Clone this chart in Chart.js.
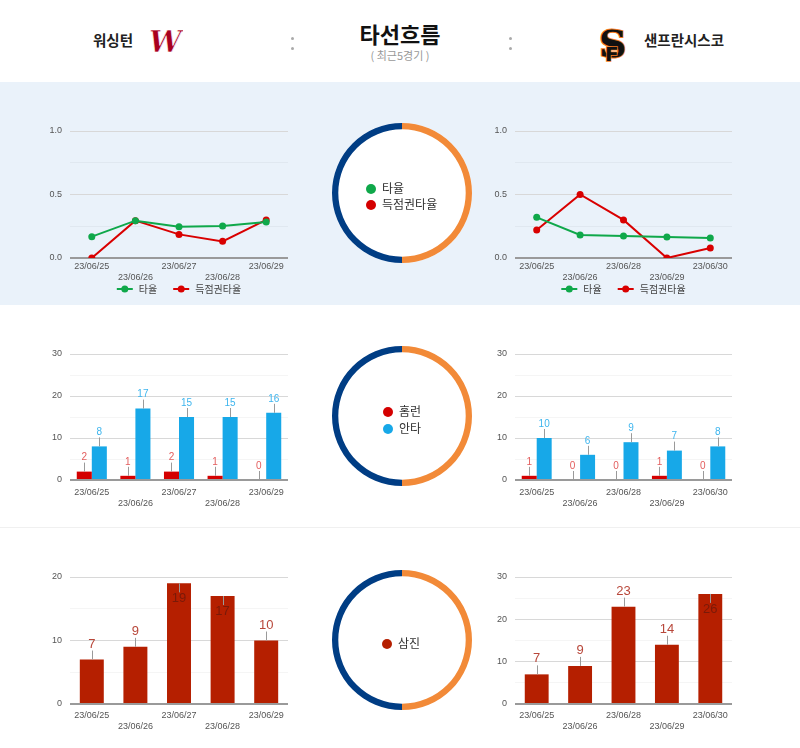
<!DOCTYPE html>
<html>
<head>
<meta charset="utf-8">
<script src="https://cdn.jsdelivr.net/npm/chart.js@4.4.0/dist/chart.umd.min.js"></script>
<style>
body { margin: 0; width: 800px; height: 748px; background: #fff; position: relative; overflow: hidden;
       font-family: 'Liberation Sans', 'Noto Sans CJK KR', sans-serif; }
.abs { position: absolute; }
.dot { position: absolute; width: 3px; height: 3px; border-radius: 50%; background: #aaa; }
.ring-bg { position: absolute; width: 140px; height: 140px; border-radius: 50%; background: #fff; }
.lg { position: absolute; font-family: 'Noto Sans CJK KR', sans-serif; font-size: 12px; color: #333; line-height: 16px; white-space: nowrap; }
.lg i { display: inline-block; width: 10px; height: 10px; border-radius: 50%; margin-right: 6px; vertical-align: -1px; }
.team { position: absolute; font-family: 'Noto Sans CJK KR', sans-serif; font-size: 14.5px; font-weight: bold; color: #222; line-height: 20px; }
</style>
</head>
<body>

<!-- header -->
<div class="abs" style="left:0;top:20px;width:800px;text-align:center;font-family:'Noto Sans CJK KR';font-size:22px;font-weight:bold;color:#111;line-height:26px">타선흐름</div>
<div class="abs" style="left:0;top:48px;width:800px;text-align:center;font-family:'Noto Sans CJK KR';font-size:11px;color:#999;line-height:14px">( 최근5경기 )</div>
<div class="team" style="left:93px;top:30px">워싱턴</div>
<svg class="abs" style="left:147px;top:27px" width="36" height="30">
  <text x="2" y="25" font-family="DejaVu Serif" font-style="italic" font-weight="bold" font-size="29" fill="#a8001e" stroke="#fff" stroke-width="0.6">W</text>
</svg>
<div class="dot" style="left:291px;top:37px"></div>
<div class="dot" style="left:291px;top:47px"></div>
<div class="dot" style="left:509px;top:37px"></div>
<div class="dot" style="left:509px;top:47px"></div>
<svg class="abs" style="left:596px;top:21px" width="34" height="44">
  <text x="3" y="36" font-family="DejaVu Serif" font-weight="bold" font-size="38" fill="#111" stroke="#f47a20" stroke-width="2" paint-order="stroke">S</text>
  <text x="9" y="40" font-family="DejaVu Sans" font-weight="bold" font-size="20" fill="#111" stroke="#f47a20" stroke-width="1.5" paint-order="stroke">F</text>
</svg>
<div class="team" style="left:644px;top:30px">샌프란시스코</div>

<!-- row backgrounds -->
<div class="abs" style="left:0;top:82px;width:800px;height:223px;background:#eaf2fa"></div>
<div class="abs" style="left:0;top:527px;width:800px;height:1px;background:#f0f0f0"></div>

<!-- charts -->
<canvas id="wasLine" class="abs" style="left:40px;top:110px" width="260" height="190"></canvas>
<canvas id="sfLine" class="abs" style="left:490px;top:110px" width="255" height="190"></canvas>
<canvas id="wasBar" class="abs" style="left:40px;top:340px" width="260" height="175"></canvas>
<canvas id="sfBar" class="abs" style="left:490px;top:340px" width="255" height="175"></canvas>
<canvas id="wasSoBar" class="abs" style="left:40px;top:560px" width="260" height="184"></canvas>
<canvas id="sfSoBar" class="abs" style="left:490px;top:560px" width="255" height="184"></canvas>

<!-- center rings -->
<div class="ring-bg" style="left:332px;top:123px"></div>
<canvas id="ring1" class="abs" style="left:332px;top:123px" width="140" height="140"></canvas>
<div class="lg" style="left:366px;top:180px"><i style="background:#0fa84a"></i>타율</div>
<div class="lg" style="left:366px;top:196px"><i style="background:#d40000"></i>득점권타율</div>

<div class="ring-bg" style="left:332px;top:346px"></div>
<canvas id="ring2" class="abs" style="left:332px;top:346px" width="140" height="140"></canvas>
<div class="lg" style="left:383px;top:403px"><i style="background:#d40000"></i>홈런</div>
<div class="lg" style="left:383px;top:420px"><i style="background:#17a8e8"></i>안타</div>

<div class="ring-bg" style="left:332px;top:570px"></div>
<canvas id="ring3" class="abs" style="left:332px;top:570px" width="140" height="140"></canvas>
<div class="lg" style="left:382px;top:635px"><i style="background:#b51f00"></i>삼진</div>

<script>
const wasDates = ['23/06/25', '23/06/26', '23/06/27', '23/06/28', '23/06/29']
const sfDates = ['23/06/25', '23/06/26', '23/06/28', '23/06/29', '23/06/30']

// 타율 / 득점권타율
const wasAvg = [0.168, 0.294, 0.247, 0.252, 0.283]
const wasRisp = [0.0, 0.294, 0.186, 0.131, 0.3]
const sfAvg = [0.32, 0.181, 0.173, 0.165, 0.157]
const sfRisp = [0.22, 0.5, 0.3, 0.0, 0.079]

// 홈런 / 안타
const wasHr = [2, 1, 2, 1, 0]
const wasHits = [8, 17, 15, 15, 16]
const sfHr = [1, 0, 0, 1, 0]
const sfHits = [10, 6, 9, 7, 8]

// 삼진
const wasSo = [7, 9, 19, 17, 10]
const sfSo = [7, 9, 23, 14, 26]

const ringShare = [50, 50]

Chart.defaults.font.family = "'Liberation Sans', 'Noto Sans CJK KR', sans-serif"
Chart.defaults.color = '#555'
Chart.defaults.animation = false

const stagger = arr => arr.map((d, i) => i % 2 ? ['', d] : d)

function yAxis(max, step, labelStep, width, digits) {
    const isLabel = v => Math.abs(v / labelStep - Math.round(v / labelStep)) < 1e-9
    return {
        min: 0,
        max: max,
        afterFit: s => { s.width = width },
        border: { display: false },
        grid: {
            drawTicks: false,
            color: c => c.tick.value === 0 ? '#9a9a9a' : (isLabel(c.tick.value) ? '#d8d8d8' : 'rgba(0,0,0,0.04)'),
            lineWidth: c => c.tick.value === 0 ? 2 : 1
        },
        ticks: {
            stepSize: step,
            padding: 8,
            font: { size: 9 },
            color: '#555',
            callback: v => isLabel(v) ? v.toFixed(digits) : ''
        }
    }
}

function xAxis(height, pad) {
    return {
        offset: true,
        afterFit: s => { s.height = height },
        grid: { display: false, drawTicks: false },
        border: { display: false },
        ticks: { autoSkip: false, maxRotation: 0, padding: pad, font: { size: 9, lineHeight: 1.25 }, color: '#555' }
    }
}

// legend under line charts: line with a dot, then text
const lineLegend = {
    id: 'lineLegend',
    afterDraw(chart) {
        const ctx = chart.ctx
        const area = chart.chartArea
        const y = area.bottom + 31
        ctx.save()
        ctx.font = "10px 'Noto Sans CJK KR', sans-serif"
        const items = chart.data.datasets.map(ds => ({
            text: ds.label, color: ds.borderColor, w: 16 + 6 + ctx.measureText(ds.label).width
        }))
        const gap = 16
        const total = items.reduce((s, it) => s + it.w, 0) + gap * (items.length - 1)
        let x = (area.left + area.right) / 2 - total / 2
        items.forEach(it => {
            ctx.strokeStyle = it.color
            ctx.fillStyle = it.color
            ctx.lineWidth = 2
            ctx.beginPath()
            ctx.moveTo(x, y)
            ctx.lineTo(x + 16, y)
            ctx.stroke()
            ctx.beginPath()
            ctx.arc(x + 8, y, 3.5, 0, Math.PI * 2)
            ctx.fill()
            ctx.fillStyle = '#444'
            ctx.textBaseline = 'middle'
            ctx.fillText(it.text, x + 22, y)
            x += it.w + gap
        })
        ctx.restore()
    }
}

// value labels with a small stem, Google style
const barLabels = {
    id: 'barLabels',
    afterDatasetsDraw(chart, args, opts) {
        const ctx = chart.ctx
        const top = chart.chartArea.top
        ctx.save()
        ctx.font = opts.size + 'px Liberation Sans, sans-serif'
        ctx.textAlign = 'center'
        ctx.textBaseline = 'middle'
        chart.data.datasets.forEach((ds, di) => {
            chart.getDatasetMeta(di).data.forEach((bar, i) => {
                const inside = bar.y - opts.offset - opts.size * 0.45 < top
                const dir = inside ? 1 : -1
                ctx.strokeStyle = '#9a9a9a'
                ctx.lineWidth = 1
                ctx.beginPath()
                ctx.moveTo(Math.round(bar.x) + 0.5, bar.y)
                ctx.lineTo(Math.round(bar.x) + 0.5, bar.y + dir * opts.stem)
                ctx.stroke()
                ctx.fillStyle = inside ? opts.insideColor : ds.labelColor
                ctx.fillText(ds.data[i], bar.x, bar.y + dir * opts.offset)
            })
        })
        ctx.restore()
    }
}

function makeLine(id, dates, avg, risp, yWidth, right) {
    new Chart(document.getElementById(id), {
        type: 'line',
        data: {
            labels: stagger(dates),
            datasets: [
                { label: '타율', data: avg, borderColor: '#0fa84a', backgroundColor: '#0fa84a',
                  borderWidth: 2, pointRadius: 3.5, pointBorderWidth: 0, tension: 0 },
                { label: '득점권타율', data: risp, borderColor: '#d90000', backgroundColor: '#d90000',
                  borderWidth: 2, pointRadius: 3.5, pointBorderWidth: 0, tension: 0 }
            ]
        },
        options: {
            responsive: false,
            events: [],
            layout: { padding: { top: 21, right: right, left: 0, bottom: 0 } },
            plugins: { legend: { display: false }, tooltip: { enabled: false } },
            scales: { x: xAxis(42, 2.4), y: yAxis(1, 0.25, 0.5, yWidth, 1) }
        },
        plugins: [lineLegend]
    })
}

function makeHrBar(id, dates, hr, hits, yWidth, right) {
    new Chart(document.getElementById(id), {
        type: 'bar',
        data: {
            labels: stagger(dates),
            datasets: [
                { label: '홈런', data: hr, backgroundColor: '#d40000', labelColor: '#e35d5d',
                  categoryPercentage: 0.69, barPercentage: 1.0 },
                { label: '안타', data: hits, backgroundColor: '#17a8e8', labelColor: '#3db5ee',
                  categoryPercentage: 0.69, barPercentage: 1.0 }
            ]
        },
        options: {
            responsive: false,
            events: [],
            layout: { padding: { top: 14, right: right, left: 0, bottom: 0 } },
            plugins: {
                legend: { display: false }, tooltip: { enabled: false },
                barLabels: { size: 10, stem: 9, offset: 14, insideColor: '#fff' }
            },
            scales: { x: xAxis(35, 6.4), y: yAxis(30, 5, 10, yWidth, 0) }
        },
        plugins: [barLabels]
    })
}

function makeSoBar(id, dates, so, max, yWidth, right) {
    new Chart(document.getElementById(id), {
        type: 'bar',
        data: {
            labels: stagger(dates),
            datasets: [
                { label: '삼진', data: so, backgroundColor: '#b51f00', labelColor: '#b8473a',
                  categoryPercentage: 1.0, barPercentage: 0.55 }
            ]
        },
        options: {
            responsive: false,
            events: [],
            layout: { padding: { top: 17, right: right, left: 0, bottom: 0 } },
            plugins: {
                legend: { display: false }, tooltip: { enabled: false },
                barLabels: { size: 13, stem: 9, offset: 15.5, insideColor: '#7a1a08' }
            },
            scales: { x: xAxis(40, 5.4), y: yAxis(max, 5, 10, yWidth, 0) }
        },
        plugins: [barLabels]
    })
}

function makeRing(id) {
    new Chart(document.getElementById(id), {
        type: 'doughnut',
        data: {
            labels: ['away', 'home'],
            datasets: [{ data: ringShare, backgroundColor: ['#f28a38', '#003d84'], borderWidth: 0 }]
        },
        options: {
            responsive: false,
            events: [],
            cutout: '91%',
            plugins: { legend: { display: false }, tooltip: { enabled: false } }
        }
    })
}

makeLine('wasLine', wasDates, wasAvg, wasRisp, 30, 12)
makeLine('sfLine', sfDates, sfAvg, sfRisp, 25, 13)
makeHrBar('wasBar', wasDates, wasHr, wasHits, 30, 12)
makeHrBar('sfBar', sfDates, sfHr, sfHits, 25, 13)
makeSoBar('wasSoBar', wasDates, wasSo, 20, 30, 12)
makeSoBar('sfSoBar', sfDates, sfSo, 30, 25, 13)
makeRing('ring1')
makeRing('ring2')
makeRing('ring3')
</script>
</body>
</html>
